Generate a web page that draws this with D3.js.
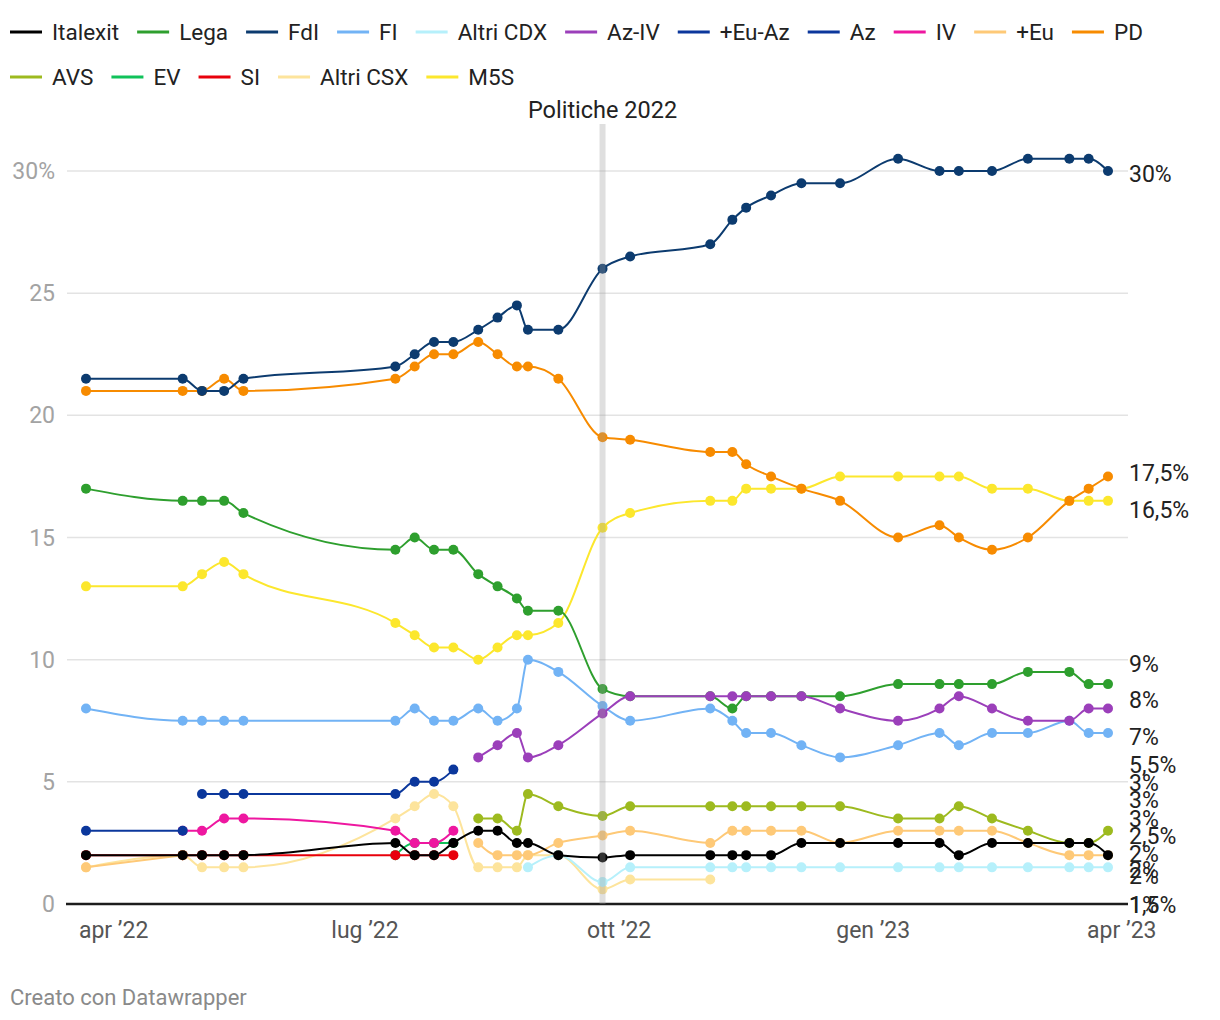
<!DOCTYPE html>
<html><head><meta charset="utf-8">
<script src="https://cdn.jsdelivr.net/npm/d3@7"></script>
<style>
body{margin:0;background:#fff;}
svg{font-family:Roboto, "Noto Sans", sans-serif;}
</style></head><body>
<svg id="chart" width="1220" height="1020"></svg>
<script>
// ---------- DATA ----------
const pollDates = ["2022-03-22","2022-04-26","2022-05-03","2022-05-11","2022-05-18","2022-07-12","2022-07-19","2022-07-26","2022-08-02","2022-08-11","2022-08-18","2022-08-25","2022-08-29","2022-09-09","2022-09-25","2022-10-05","2022-11-03","2022-11-11","2022-11-16","2022-11-25","2022-12-06","2022-12-20","2023-01-10","2023-01-25","2023-02-01","2023-02-13","2023-02-26","2023-03-13","2023-03-20","2023-03-27"];
const n = null;
const italexit = [2,2,2,2,2,2.5,2,2,2.5,3,3,2.5,2.5,2,1.9,2,2,2,2,2,2.5,2.5,2.5,2.5,2,2.5,2.5,2.5,2.5,2];
const lega     = [17,16.5,16.5,16.5,16,14.5,15,14.5,14.5,13.5,13,12.5,12,12,8.8,8.5,8.5,8,8.5,8.5,8.5,8.5,9,9,9,9,9.5,9.5,9,9];
const fdi      = [21.5,21.5,21,21,21.5,22,22.5,23,23,23.5,24,24.5,23.5,23.5,26,26.5,27,28,28.5,29,29.5,29.5,30.5,30,30,30,30.5,30.5,30.5,30];
const fi       = [8,7.5,7.5,7.5,7.5,7.5,8,7.5,7.5,8,7.5,8,10,9.5,8.1,7.5,8,7.5,7,7,6.5,6,6.5,7,6.5,7,7,7.5,7,7];
const altriCdx = [n,n,n,n,n,n,n,n,n,n,n,n,1.5,2,0.9,1.5,1.5,1.5,1.5,1.5,1.5,1.5,1.5,1.5,1.5,1.5,1.5,1.5,1.5,1.5];
const azIv     = [n,n,n,n,n,n,n,n,n,6,6.5,7,6,6.5,7.8,8.5,8.5,8.5,8.5,8.5,8.5,8,7.5,8,8.5,8,7.5,7.5,8,8];
const euAz     = [3,3,n,n,n,n,n,n,n,n,n,n,n,n,n,n,n,n,n,n,n,n,n,n,n,n,n,n,n,n];
const az       = [n,n,4.5,4.5,4.5,4.5,5,5,5.5,n,n,n,n,n,n,n,n,n,n,n,n,n,n,n,n,n,n,n,n,n];
const iv       = [n,3,3,3.5,3.5,3,2.5,2.5,3,n,n,n,n,n,n,n,n,n,n,n,n,n,n,n,n,n,n,n,n,n];
const piuEu    = [1.5,2,n,n,n,n,n,n,n,2.5,2,2,2,2.5,2.8,3,2.5,3,3,3,3,2.5,3,3,3,3,2.5,2,2,2];
const pd       = [21,21,21,21.5,21,21.5,22,22.5,22.5,23,22.5,22,22,21.5,19.1,19,18.5,18.5,18,17.5,17,16.5,15,15.5,15,14.5,15,16.5,17,17.5];
const avs      = [n,n,n,n,n,n,n,n,n,3.5,3.5,3,4.5,4,3.6,4,4,4,4,4,4,4,3.5,3.5,4,3.5,3,2.5,2.5,3];
const ev       = [n,n,n,n,n,2,2.5,2.5,2.5,n,n,n,n,n,n,n,n,n,n,n,n,n,n,n,n,n,n,n,n,n];
const si       = [2,2,2,2,2,2,2,2,2,n,n,n,n,n,n,n,n,n,n,n,n,n,n,n,n,n,n,n,n,n];
const altriCsx = [1.5,2,1.5,1.5,1.5,3.5,4,4.5,4,1.5,1.5,1.5,2,2,0.6,1,1,n,n,n,n,n,n,n,n,n,n,n,n,n];
const m5s      = [13,13,13.5,14,13.5,11.5,11,10.5,10.5,10,10.5,11,11,11.5,15.4,16,16.5,16.5,17,17,17,17.5,17.5,17.5,17.5,17,17,16.5,16.5,16.5];

const seriesNames  = ["Italexit","Lega","FdI","FI","Altri CDX","Az-IV","+Eu-Az","Az","IV","+Eu","PD","AVS","EV","SI","Altri CSX","M5S"];
const seriesValues = [italexit,lega,fdi,fi,altriCdx,azIv,euAz,az,iv,piuEu,pd,avs,ev,si,altriCsx,m5s];
const seriesColors = ["#000000","#2e9f2e","#0c3b6f","#72b3f5","#b6f0fb","#9b3fba","#0b379c","#0b379c","#ee17a0","#fec977","#f78b00","#9dba1f","#10c25a","#e8000b","#fde49c","#fce72d"];
// stacking order, bottom to top
const drawOrder = ["M5S","Altri CSX","EV","SI","AVS","PD","+Eu","IV","Az","+Eu-Az","Lega","Altri CDX","FI","Az-IV","FdI","Italexit"];

const yTicks = [0,5,10,15,20,25,30];
const xTickDates  = ["2022-04-01","2022-07-01","2022-10-01","2023-01-01","2023-04-01"];
const xTickLabels = ["apr ’22","lug ’22","ott ’22","gen ’23","apr ’23"];
const electionDate = "2022-09-25";
const electionLabel = "Politiche 2022";
const footerText = "Creato con Datawrapper";

// ---------- LAYOUT ----------
const svg = d3.select("#chart");
const parse = d3.utcParse("%Y-%m-%d");
const dates = pollDates.map(parse);
const plotLeft = 67, plotRight = 1128, plotTop = 171, plotBottom = 904;
const x = d3.scaleUtc().domain(d3.extent(dates)).range([86, 1108]);
const y = d3.scaleLinear().domain([0, 30]).range([plotBottom, plotTop]);
const fmt = v => String(v).replace(".", ",") + "%";

// gridlines
svg.append("g").selectAll("line").data(yTicks.filter(t => t !== 0)).join("line")
  .attr("x1", plotLeft).attr("x2", plotRight)
  .attr("y1", d => y(d)).attr("y2", d => y(d))
  .attr("stroke", "#e3e3e3").attr("stroke-width", 1.5);

// y labels
svg.append("g").selectAll("text").data(yTicks).join("text")
  .attr("x", 55).attr("y", d => y(d)).attr("dy", "0.35em")
  .attr("text-anchor", "end").attr("font-size", 23).attr("fill", "#a3a3a3")
  .text(d => d === 30 ? d + "%" : d);

// x labels
svg.append("g").selectAll("text").data(xTickDates).join("text")
  .attr("x", d => x(parse(d))).attr("y", 930).attr("dy", "0.35em")
  .attr("text-anchor", "middle").attr("font-size", 23).attr("fill", "#555")
  .text((d, i) => xTickLabels[i]);

// series
const line = d3.line()
  .defined(d => d.v != null)
  .x(d => x(d.date)).y(d => y(d.v))
  .curve(d3.curveMonotoneX);

const series = seriesNames.map((name, i) => ({
  name, color: seriesColors[i],
  points: seriesValues[i].map((v, j) => ({date: dates[j], v}))
}));
const ordered = drawOrder.map(nm => series.find(s => s.name === nm));

const sg = svg.append("g").selectAll("g").data(ordered).join("g");
sg.append("path")
  .attr("d", s => line(s.points))
  .attr("fill", "none").attr("stroke", s => s.color).attr("stroke-width", 2);
sg.selectAll("circle").data(s => s.points.filter(p => p.v != null).map(p => ({...p, color: s.color})))
  .join("circle")
  .attr("cx", d => x(d.date)).attr("cy", d => y(d.v)).attr("r", 5)
  .attr("fill", d => d.color);

// baseline
svg.append("line").attr("x1", plotLeft - 1).attr("x2", plotRight)
  .attr("y1", plotBottom).attr("y2", plotBottom)
  .attr("stroke", "#1d1d1d").attr("stroke-width", 2.5);

// election marker
const ex = x(parse(electionDate));
svg.append("rect").attr("x", ex - 3).attr("y", 124).attr("width", 6).attr("height", plotBottom - 124)
  .attr("fill", "#9a9a9a").attr("opacity", 0.32);
svg.append("text").attr("x", ex).attr("y", 110).attr("dy", "0.35em")
  .attr("text-anchor", "middle").attr("font-size", 23.5).attr("fill", "#222").text(electionLabel);

// end labels with relaxation (clamped to plot bottom)
const labels = series.map(s => {
  const last = s.points.filter(p => p.v != null).slice(-1)[0];
  return {text: fmt(last.v), y: y(last.v)};
});
(function relax(spacing, alpha, maxIter, maxY) {
  for (let it = 0; it < maxIter; it++) {
    let moved = false;
    for (let i = 0; i < labels.length; i++) for (let j = i + 1; j < labels.length; j++) {
      const a = labels[i], b = labels[j];
      const dy = a.y - b.y;
      if (Math.abs(dy) < spacing) {
        moved = true;
        const s = dy > 0 ? 1 : -1;
        a.y += s * alpha; b.y -= s * alpha;
      }
    }
    labels.forEach(l => { if (l.y > maxY) l.y = maxY; });
    if (!moved) break;
  }
})(36, 0.5, 75, plotBottom - 2);

svg.append("g").selectAll("text").data(labels).join("text")
  .attr("x", 1129).attr("y", d => d.y + 3).attr("dy", "0.35em")
  .attr("font-size", 23).attr("fill", "#222").text(d => d.text);

// legend
const lg = svg.append("g");
let lx = 10, ly = 32;
series.forEach(s => {
  const g = lg.append("g");
  const t = g.append("text").attr("x", 42).attr("y", 0).attr("dy", "0.35em")
    .attr("font-size", 22.5).attr("fill", "#222").text(s.name);
  const w = 42 + t.node().getComputedTextLength();
  if (lx + w > 1210) { lx = 10; ly += 45; }
  g.append("line").attr("x1", 0).attr("x2", 32).attr("y1", 0).attr("y2", 0)
    .attr("stroke", s.color).attr("stroke-width", 3);
  g.attr("transform", `translate(${lx},${ly})`);
  lx += w + 18;
});

// footer
svg.append("text").attr("x", 10).attr("y", 997).attr("dy", "0.35em")
  .attr("font-size", 22).attr("fill", "#8a8a8a").text(footerText);
</script>
</body></html>
